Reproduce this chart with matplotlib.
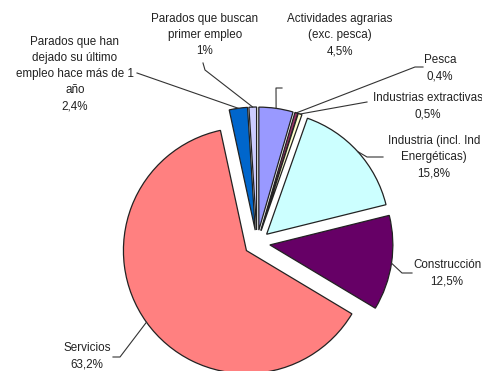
import numpy as np
import matplotlib
matplotlib.use('Agg')
import matplotlib.pyplot as plt

# data (clockwise from 12 o'clock)
labels = ['Actividades agrarias\n(exc. pesca)', 'Pesca', 'Industrias extractivas',
          'Industria (incl. Ind\nEnergéticas)', 'Construcción', 'Servicios',
          'Parados que han\ndejado su último\nempleo hace más de 1\naño',
          'Parados que buscan\nprimer empleo']
values = [4.5, 0.4, 0.5, 15.8, 12.5, 63.2, 2.4, 1.0]
colors = ['#9999FF', '#993366', '#FFFFCC', '#CCFFFF', '#660066', '#FF8080', '#0066CC', '#CCCCFF']

# label layout in pixels (y measured from top)
text_pos = [(340, 35), (440, 68), (428, 106), (434, 157), (447, 273), (87, 356), (75, 74), (205, 35)]
leader_pts = [[(282, 88), (276, 88)], [(423, 67), (415, 67)], [(367, 102)],
              [(383, 157), (367, 157)], [(412, 273), (402, 273)], [(113, 357), (120, 357)],
              [(137, 73)], [(203, 63), (205, 70)]]

W, H = 482, 371
plt.rcParams['font.family'] = ['Liberation Sans', 'DejaVu Sans']

fig = plt.figure(figsize=(W / 100, H / 100), dpi=100)
ax = fig.add_axes([0, 0, 1, 1])

# explode is in data units here (pixels)
wedges, _ = ax.pie(values, colors=colors, startangle=90, counterclock=False,
                   center=(257, H - 243), radius=123, explode=[13] * len(values),
                   wedgeprops=dict(edgecolor='#222222', linewidth=0.9), frame=True)
ax.set_xlim(0, W)
ax.set_ylim(0, H)
ax.set_aspect('equal')
ax.axis('off')

for i, w in enumerate(wedges):
    ang = np.deg2rad((w.theta1 + w.theta2) / 2)
    ax_x = w.center[0] + w.r * np.cos(ang)
    ax_y = w.center[1] + w.r * np.sin(ang)
    pts = [(x, H - y) for x, y in leader_pts[i]] + [(ax_x, ax_y)]
    ax.plot([p[0] for p in pts], [p[1] for p in pts], color='#333333', lw=0.8)
    pct = ('%g' % values[i]).replace('.', ',') + '%'
    tx, ty = text_pos[i]
    ax.text(tx, H - ty, labels[i] + '\n' + pct, ha='center', va='center',
            multialignment='center', fontsize=8.4, linespacing=1.46, color='#222222')

fig.savefig('out.png', dpi=100)
